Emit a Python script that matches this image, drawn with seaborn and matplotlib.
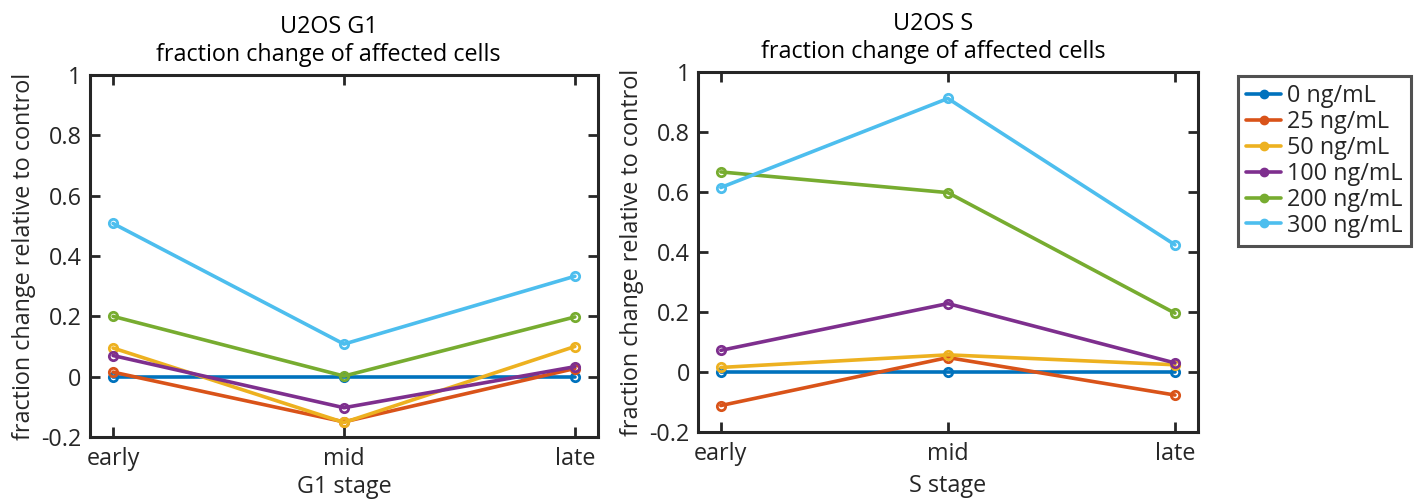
import numpy as np
import pandas as pd
import matplotlib
matplotlib.use("Agg")
import matplotlib.pyplot as plt
import seaborn as sns

stages = ["early", "mid", "late"]
doses = ["0 ng/mL", "25 ng/mL", "50 ng/mL", "100 ng/mL", "200 ng/mL", "300 ng/mL"]
colors = ["#0072BD", "#D95319", "#EDB120", "#7E2F8E", "#77AC30", "#4DBEEE"]

g1_0 = [0.0, 0.0, 0.0]
g1_25 = [0.015, -0.15, 0.027]
g1_50 = [0.095, -0.152, 0.100]
g1_100 = [0.070, -0.103, 0.033]
g1_200 = [0.200, 0.002, 0.198]
g1_300 = [0.508, 0.108, 0.333]

s_0 = [0.0, 0.0, 0.0]
s_25 = [-0.112, 0.048, -0.077]
s_50 = [0.015, 0.057, 0.024]
s_100 = [0.072, 0.228, 0.030]
s_200 = [0.667, 0.598, 0.196]
s_300 = [0.615, 0.912, 0.424]

g1_vals = [g1_0, g1_25, g1_50, g1_100, g1_200, g1_300]
s_vals = [s_0, s_25, s_50, s_100, s_200, s_300]

def make_df(vals):
    rows = []
    for d, v in zip(doses, vals):
        for i, st in enumerate(stages):
            rows.append({"dose": d, "pos": i, "stage": st, "value": v[i]})
    return pd.DataFrame(rows)

sns.set_theme(style="white")
plt.rcParams['font.family'] = ['Open Sans', 'DejaVu Sans']
FS = 16.8

fig = plt.figure(figsize=(14.19, 5.04), dpi=100)
ax1 = fig.add_axes([0.0634, 0.133, 0.358, 0.718])
ax2 = fig.add_axes([0.492, 0.143, 0.352, 0.714])

palette = dict(zip(doses, colors))
for ax, vals, title, xl, lp in [(ax1, g1_vals, "U2OS G1\nfraction change of affected cells", "G1 stage", 3),
                                 (ax2, s_vals, "U2OS S\nfraction change of affected cells", "S stage", 6)]:
    df = make_df(vals)
    sns.lineplot(data=df, x="pos", y="value", hue="dose", hue_order=doses, palette=palette,
                 marker="o", markersize=6, markerfacecolor="none", markeredgewidth=2,
                 linewidth=2.6, ax=ax, legend=False, sort=False)
    for l in ax.lines:
        l.set_markeredgecolor(l.get_color())
    ax.set_xlim(-0.1, 2.1)
    ax.set_ylim(-0.2, 1.0)
    ax.set_xticks([0, 1, 2])
    ax.set_xticklabels(stages)
    ax.set_yticks([-0.2, 0, 0.2, 0.4, 0.6, 0.8, 1.0])
    ax.set_yticklabels(["-0.2", "0", "0.2", "0.4", "0.6", "0.8", "1"])
    ax.tick_params(axis="both", direction="in", length=7, width=2, labelsize=FS,
                   top=True, right=True, bottom=True, left=True, colors="#262626", labelcolor="#262626")
    ax.tick_params(axis="x", pad=7)
    ax.tick_params(axis="y", pad=6)
    for sp in ax.spines.values():
        sp.set_visible(True)
        sp.set_linewidth(2.2)
        sp.set_color("#262626")
    ax.set_xlabel(xl, fontsize=FS, color="#262626", labelpad=lp)
    ax.set_ylabel("fraction change relative to control", fontsize=FS, color="#262626")
    ax.set_title(title, fontsize=FS, color="#000000", x=0.47, pad=10, linespacing=1.25)

from matplotlib.lines import Line2D
handles = [Line2D([0], [0], color=c, linewidth=2.6, marker="o", markersize=6) for c in colors]
leg = fig.legend(handles, doses, loc="upper left", bbox_to_anchor=(0.8725, 0.849),
                 fontsize=FS, frameon=True, fancybox=False, handlelength=1.5, handletextpad=0.25,
                 labelspacing=0.08, borderpad=0.35, borderaxespad=0)
leg.get_frame().set_edgecolor("#262626")
leg.get_frame().set_linewidth(2.2)

fig.savefig("out.png", dpi=100)
